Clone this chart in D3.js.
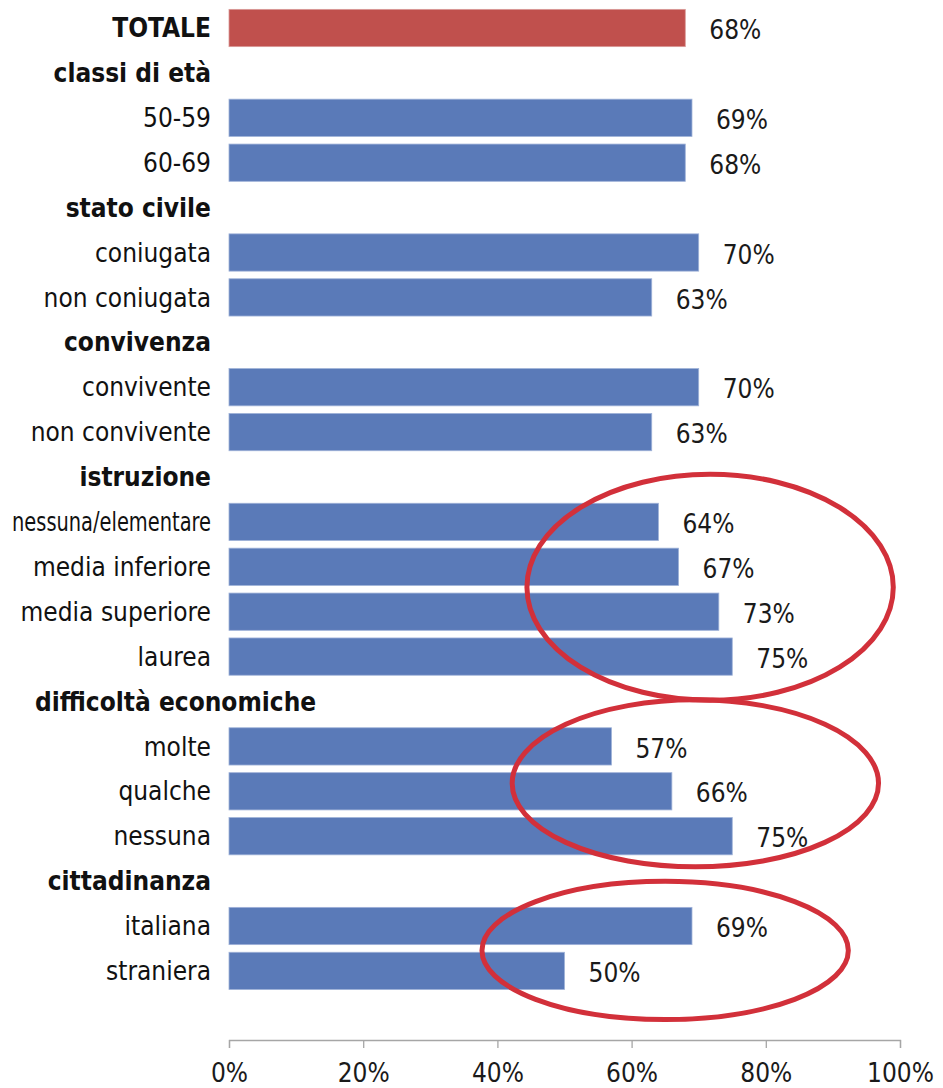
<!DOCTYPE html>
<html>
	<head>
		<script src="https://d3js.org/d3.v7.min.js" charset="utf-8"></script>
		<style>
			body { margin: 0; background: #fff; }
			text { font-family: "Liberation Sans Narrow", "Arial Narrow", "DejaVu Sans Condensed", sans-serif; }
		</style>
	</head>

	<body>
		<svg id="chart" width="943" height="1088"></svg>

		<script>
			// rows top to bottom; null value = group header
			const labels = ["TOTALE", "classi di età", "50-59", "60-69",
				"stato civile", "coniugata", "non coniugata",
				"convivenza", "convivente", "non convivente",
				"istruzione", "nessuna/elementare", "media inferiore", "media superiore", "laurea",
				"difficoltà economiche", "molte", "qualche", "nessuna",
				"cittadinanza", "italiana", "straniera"];
			const values = [0.68, null, 0.69, 0.68,
				null, 0.70, 0.63,
				null, 0.70, 0.63,
				null, 0.64, 0.67, 0.73, 0.75,
				null, 0.57, 0.66, 0.75,
				null, 0.69, 0.50];
			const headers = ["TOTALE", "classi di età", "stato civile", "convivenza",
				"istruzione", "difficoltà economiche", "cittadinanza"];
			const xTicks = [0, 0.2, 0.4, 0.6, 0.8, 1.0];

			// circled groups
			const highlightRows = [
				["nessuna/elementare", "media inferiore", "media superiore", "laurea"],
				["molte", "qualche", "nessuna"],
				["italiana", "straniera"]];

			const data = labels.map((d, i) => ({label: d, value: values[i]}));

			const svg = d3.select("#chart");
			const left = 229, right = 900;
			const step = 44.9, firstRow = 28;
			const axisY = 1040;

			var x = d3.scaleLinear().domain([0, 1]).range([left, right]);
			var y = d3.scaleBand()
				.domain(labels)
				.range([firstRow - step / 2, firstRow - step / 2 + step * labels.length])
				.paddingInner(0.17)
				.paddingOuter(0.085);

			// axis
			var xAxis = d3.axisBottom(x).tickValues(xTicks)
				.tickFormat(d3.format(".0%")).tickSize(8).tickSizeOuter(8);
			var gx = svg.append("g")
				.attr("transform", `translate(0, ${axisY})`)
				.call(xAxis);
			gx.select(".domain").attr("stroke", "#a6a6a6").attr("stroke-width", 1.3);
			gx.selectAll(".tick line").attr("stroke", "#a6a6a6").attr("stroke-width", 1.3);
			gx.selectAll(".tick text")
				.attr("y", 24).attr("dy", "0.71em")
				.attr("fill", "#1a1a1a")
				.style("font-size", "26px");

			// bars
			svg.selectAll("rect.bar")
				.data(data.filter(d => d.value != null))
				.enter()
				.append("rect")
				.attr("class", "bar")
				.attr("x", x(0))
				.attr("y", d => y(d.label))
				.attr("width", d => x(d.value) - x(0))
				.attr("height", y.bandwidth())
				.attr("fill", d => d.label == "TOTALE" ? "#c0504d" : "#5a7ab8")
				.attr("stroke", d => d.label == "TOTALE" ? "#d99a98" : "#9fb2d8")
				.attr("stroke-width", 0.8);

			// value labels
			svg.selectAll("text.val")
				.data(data.filter(d => d.value != null))
				.enter()
				.append("text")
				.attr("class", "val")
				.attr("x", d => x(d.value) + 24)
				.attr("y", d => y(d.label) + y.bandwidth() / 2 + 2)
				.attr("dy", "0.35em")
				.attr("fill", "#1a1a1a")
				.style("font-size", "26px")
				.text(d => d3.format(".0%")(d.value));

			// category labels
			svg.selectAll("text.cat")
				.data(data)
				.enter()
				.append("text")
				.attr("class", "cat")
				.attr("x", 211)
				.attr("y", d => y(d.label) + y.bandwidth() / 2)
				.attr("dy", "0.35em")
				.attr("text-anchor", "end")
				.attr("fill", "#111")
				.style("font-size", "26px")
				.style("font-weight", d => headers.includes(d.label) ? "bold" : "normal")
				.text(d => d.label)
				.each(function (d) {
					var w = this.getComputedTextLength();
					if (w <= 200) return;
					if (headers.includes(d.label)) {
						// long headers have no bar, so they run on to the right
						d3.select(this).attr("text-anchor", "start").attr("x", 35);
					}
					else {
						// squeeze labels that would run off the left edge
						d3.select(this).attr("textLength", 199).attr("lengthAdjust", "spacingAndGlyphs");
					}
				});

			// red annotation ellipses round the groups
			const ellipseX = [[0.717, 0.273], [0.695, 0.273], [0.65, 0.273]];
			const ellipseYPad = [27, 20, 28];
			const ellipseShift = [-2, -8, 2];
			highlightRows.forEach(function (rows, i) {
				var top = y(rows[0]);
				var bottom = y(rows[rows.length - 1]) + y.bandwidth();
				var cy = (top + bottom) / 2 + ellipseShift[i];
				var ry = (bottom - top) / 2 + ellipseYPad[i];
				svg.append("ellipse")
					.attr("cx", x(ellipseX[i][0]))
					.attr("cy", cy)
					.attr("rx", x(ellipseX[i][1]) - x(0))
					.attr("ry", ry)
					.attr("fill", "none")
					.attr("stroke", "#d2303a")
					.attr("stroke-width", 5);
			});
		</script>
	</body>
</html>
